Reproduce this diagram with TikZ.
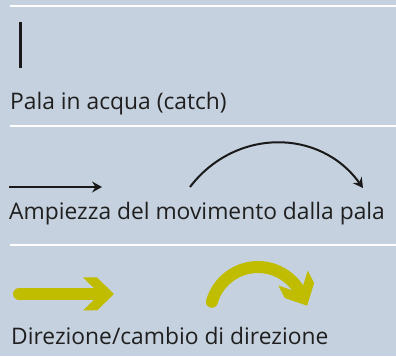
\documentclass[tikz,border=0pt]{standalone}
\usepackage{fontspec}
\setmainfont{Open Sans}
\usetikzlibrary{arrows.meta}
\definecolor{bgc}{HTML}{C5D1DE}
\definecolor{olivey}{HTML}{C0BC00}
\tikzset{
 sep/.style={white, line width=2.5pt},
 lbl/.style={anchor=base west, inner sep=0pt, font=\fontsize{22.8}{27}\selectfont, text=black!88},
 blk/.style={black!90, line width=2pt},
 blkarrow/.style={blk, -{Stealth[length=10pt,width=11pt,inset=3.5pt]}},
 ylw/.style={olivey, line width=12pt},
 yhead/.pic={\fill[olivey] (-17,16.5) -- (-3,16.5) -- (14,0) -- (-3,-16.5) -- (-17,-16.5) -- (0,0) -- cycle;}
}
\begin{document}
\begin{tikzpicture}[x=1pt,y=1pt]
\fill[bgc] (0,0) rectangle (396,356);
\useasboundingbox (0,0) rectangle (396,356);
% separators
\coordinate (s1a) at (10,350); \coordinate (s1b) at (396,350);
\coordinate (s2a) at (10,230); \coordinate (s2b) at (396,230);
\coordinate (s3a) at (10,111); \coordinate (s3b) at (396,111);
\draw[sep] (s1a) -- (s1b);
\draw[sep] (s2a) -- (s2b);
\draw[sep] (s3a) -- (s3b);
% section 1
\coordinate (v1) at (20,334); \coordinate (v2) at (20,288);
\draw[black!90, line width=3pt] (v1) -- (v2);
\node[lbl] (t1) at (10,246) {Pala in acqua (catch)};
% section 2
\coordinate (h1) at (9,169); \coordinate (h2) at (102,169);
\draw[blkarrow] (h1) -- (h2);
\coordinate (c1) at (190,169); \coordinate (c2) at (363,168);
\draw[blkarrow] (c1) .. controls (235,228) and (320,228) .. (c2);
\node[lbl] (t2) at (9,136) {Ampiezza del movimento dalla pala};
% section 3
\coordinate (y1) at (19,62); \coordinate (y2) at (100,62);
\draw[ylw, line cap=round] (y1) -- (y2);
\pic at (y2) {yhead};
\coordinate (yc) at (258,41);
\draw[ylw, line cap=round] ([shift={(164:48)}]yc) arc[start angle=164, end angle=27, radius=48];
\pic[rotate=-63] at ([shift={(27:48)}]yc) {yhead};
\node[lbl] (t3) at (11,12) {Direzione/cambio di direzione};
\end{tikzpicture}
\end{document}
